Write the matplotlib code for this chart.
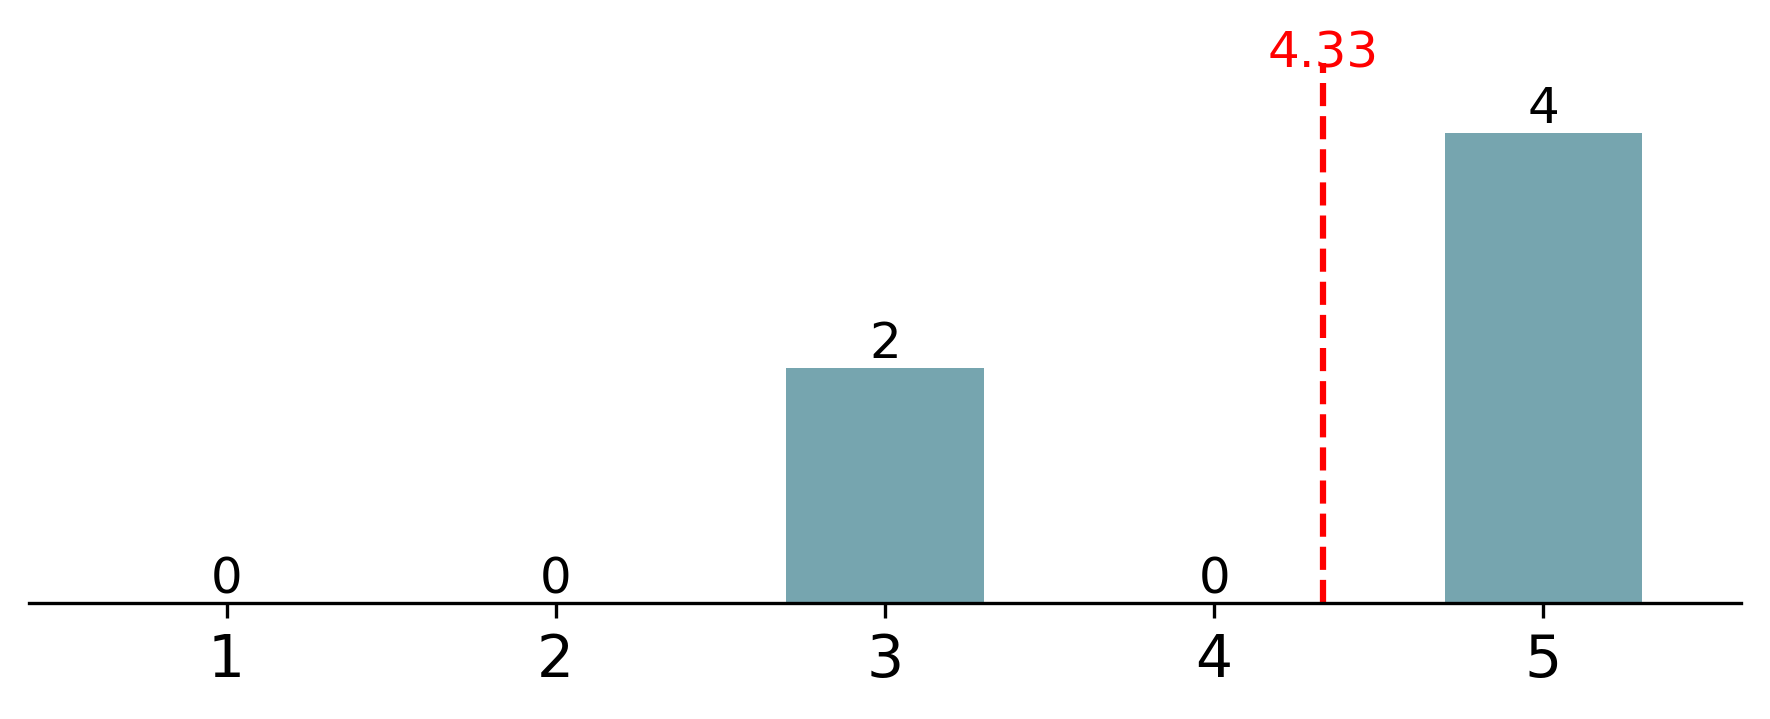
import matplotlib
matplotlib.use("Agg")
import matplotlib.pyplot as plt

categories = [1, 2, 3, 4, 5]
counts = [0, 0, 2, 0, 4]
mean_value = 4.33
mean_label = "4.33"

fig = plt.figure(figsize=(5.9, 719 / 300), dpi=300)
ax = fig.add_axes([29 / 1770, (719 - 603) / 719, (1741 - 29) / 1770, (603 - 63) / 719])

ax.bar(categories, counts, width=0.6, color="#76a5af")
for x, v in zip(categories, counts):
    ax.text(x, v, str(v), ha="center", va="bottom", fontsize=12)

ymax = max(counts) * 1.15
ax.axvline(mean_value, color="red", linestyle="--", linewidth=1.5)
ax.text(mean_value, max(counts) + 0.48, mean_label, color="red", ha="center", va="bottom", fontsize=12)

ax.set_xlim(0.4, 5.6)
ax.set_ylim(0, ymax)
ax.set_xticks(categories)
ax.set_xticklabels([str(c) for c in categories], fontsize=14)
ax.set_yticks([])
for s in ["top", "right", "left"]:
    ax.spines[s].set_visible(False)

fig.savefig("out.png", dpi=300)
